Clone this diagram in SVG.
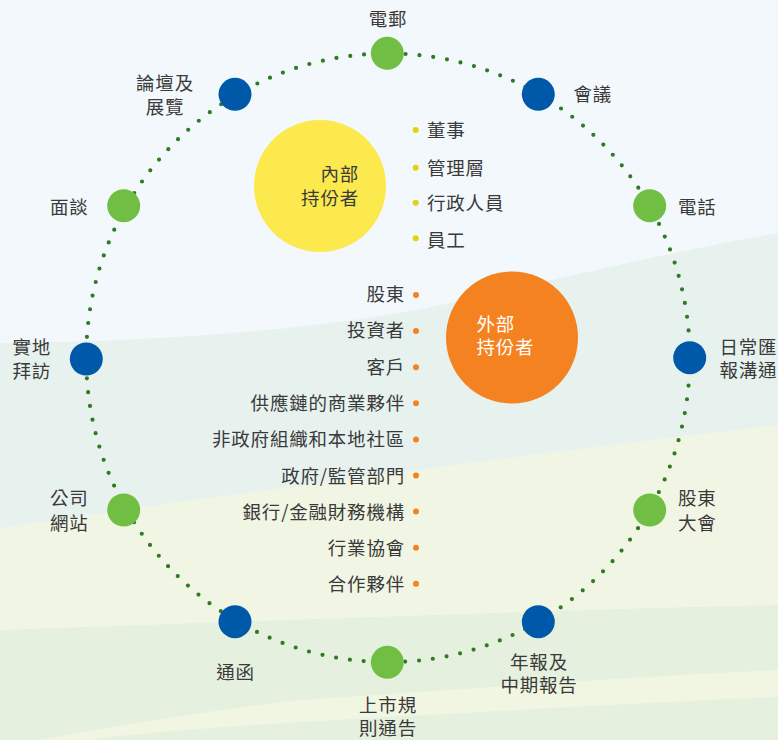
<svg xmlns="http://www.w3.org/2000/svg" width="778" height="740" viewBox="0 0 778 740">
<defs>
<style>
text{font-family:"Noto Sans CJK TC","Noto Sans CJK SC",sans-serif;font-size:18.5px;fill:#3a3a3a;letter-spacing:0.8px}
.m{text-anchor:middle}
.e{text-anchor:end}
.w{fill:#ffffff}
.g{fill:#70bf44}
.b{fill:#0059a8}
.yd{fill:#e6d20c}
.od{fill:#f58220}
</style>
</defs>
<g id="background">
<rect x="0" y="0" width="778" height="740" fill="#f2f8fb"/>
<path d="M0,343 C150,342 330,330 450,303 C560,278 680,250 778,233 L778,740 L0,740 Z" fill="#e7f2ef"/>
<path d="M0,528 C260,490 520,455 778,425 L778,740 L0,740 Z" fill="#f1f6e4"/>
<path d="M0,630 C260,621 520,611 778,605 L778,740 L0,740 Z" fill="#e5f0de"/>
<path d="M40,740 C120,725 200,712 300,700 C480,688 640,676 778,670 L778,697 C640,703 480,712 300,722 C200,728 120,735 90,740 Z" fill="#f1f6e3"/>
</g>
<g id="connectors">
<ellipse cx="388" cy="357.8" rx="301.8" ry="304.3" fill="none" stroke="#307b22" stroke-width="4.2" stroke-linecap="round" stroke-dasharray="0 13.896"/>
</g>
<g id="internal-stakeholders">
<circle cx="320" cy="186" r="66" fill="#fbe94e"/>
<text class="e"><tspan x="359" y="180.5">內部</tspan><tspan x="359" y="204.5">持份者</tspan></text>
</g>
<g id="internal-list">
<circle class="yd" cx="415.7" cy="130" r="3"/><text x="427" y="137">董事</text>
<circle class="yd" cx="415.7" cy="167.7" r="3"/><text x="427" y="174.5">管理層</text>
<circle class="yd" cx="415.7" cy="202.7" r="3"/><text x="427" y="210">行政人員</text>
<circle class="yd" cx="415.7" cy="238.3" r="3"/><text x="427" y="246.5">員工</text>
</g>
<g id="external-stakeholders">
<circle cx="512" cy="337.5" r="66" fill="#f58220"/>
<text class="w"><tspan x="476.5" y="331">外部</tspan><tspan x="476.5" y="353.5">持份者</tspan></text>
</g>
<g id="external-list">
<circle class="od" cx="416" cy="295" r="3"/><text class="e" x="405" y="301">股東</text>
<circle class="od" cx="416" cy="331.1" r="3"/><text class="e" x="405" y="337.3">投資者</text>
<circle class="od" cx="416" cy="367.2" r="3"/><text class="e" x="405" y="373.6">客戶</text>
<circle class="od" cx="416" cy="403.3" r="3"/><text class="e" x="405" y="409.9">供應鏈的商業夥伴</text>
<circle class="od" cx="416" cy="439.4" r="3"/><text class="e" x="405" y="446.2">非政府組織和本地社區</text>
<circle class="od" cx="416" cy="475.5" r="3"/><text class="e" x="405" y="482.5">政府/監管部門</text>
<circle class="od" cx="416" cy="511.6" r="3"/><text class="e" x="405" y="518.8">銀行/金融財務機構</text>
<circle class="od" cx="416" cy="547.7" r="3"/><text class="e" x="405" y="555.1">行業協會</text>
<circle class="od" cx="416" cy="583.8" r="3"/><text class="e" x="405" y="591.4">合作夥伴</text>
</g>
<g id="node-email"><circle class="g" cx="387.3" cy="53.3" r="16.5"/><text class="m" x="388" y="26">電郵</text></g>
<g id="node-meeting"><circle class="b" cx="538.3" cy="94.3" r="16.5"/><text x="573.5" y="101">會議</text></g>
<g id="node-phone"><circle class="g" cx="649.7" cy="205.7" r="16.5"/><text x="678" y="213.5">電話</text></g>
<g id="node-daily"><circle class="b" cx="689.7" cy="357.7" r="16.5"/><text><tspan x="719.5" y="353.5">日常匯</tspan><tspan x="719.5" y="376.5">報溝通</tspan></text></g>
<g id="node-agm"><circle class="g" cx="649.7" cy="510" r="16.5"/><text><tspan x="678" y="505">股東</tspan><tspan x="678" y="530">大會</tspan></text></g>
<g id="node-reports"><circle class="b" cx="538.3" cy="621.7" r="16.5"/><text class="m"><tspan x="539" y="668.5">年報及</tspan><tspan x="539" y="691.5">中期報告</tspan></text></g>
<g id="node-listing"><circle class="g" cx="387.3" cy="662.3" r="16.5"/><text class="m"><tspan x="388" y="712">上市規</tspan><tspan x="388" y="735">則通告</tspan></text></g>
<g id="node-circular"><circle class="b" cx="235" cy="621.7" r="16.5"/><text class="m" x="235.5" y="679">通函</text></g>
<g id="node-website"><circle class="g" cx="123.7" cy="510" r="16.5"/><text class="e"><tspan x="88.5" y="505">公司</tspan><tspan x="88.5" y="530">網站</tspan></text></g>
<g id="node-visit"><circle class="b" cx="86.3" cy="359" r="16.5"/><text><tspan x="12.5" y="353.5">實地</tspan><tspan x="12.5" y="378">拜訪</tspan></text></g>
<g id="node-interview"><circle class="g" cx="123.7" cy="205.7" r="16.5"/><text class="e" x="88.5" y="213.5">面談</text></g>
<g id="node-forum"><circle class="b" cx="235" cy="94.3" r="16.5"/><text class="m"><tspan x="165" y="90">論壇及</tspan><tspan x="165" y="113.5">展覽</tspan></text></g>
</svg>
